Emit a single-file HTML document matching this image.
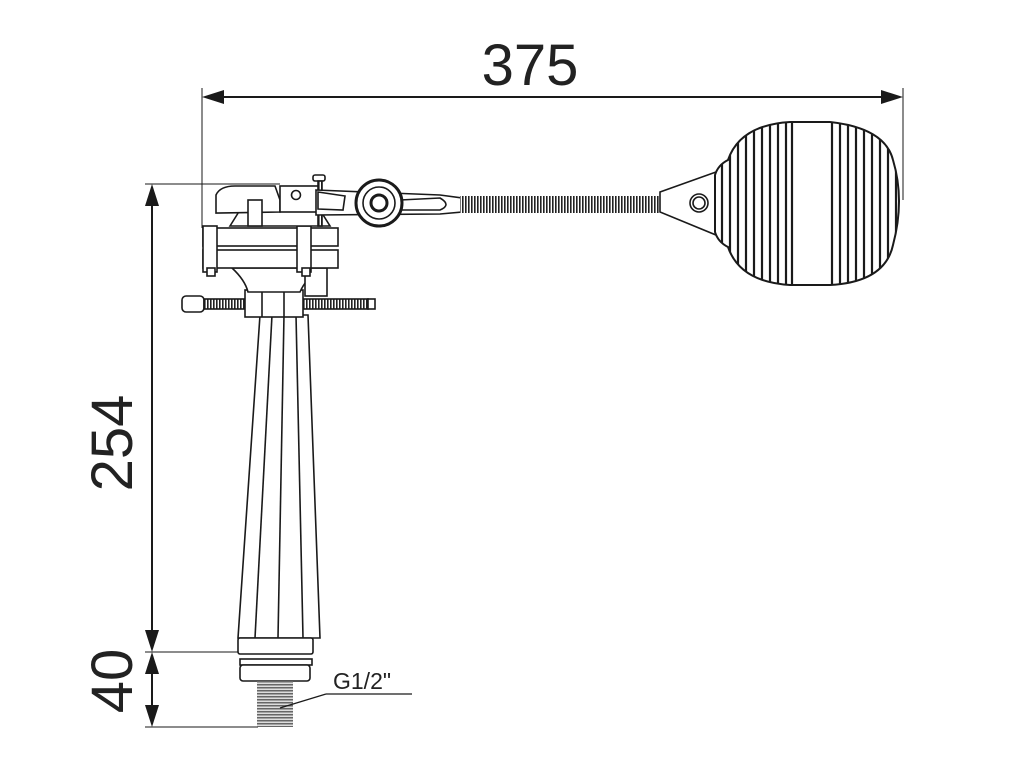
<!DOCTYPE html>
<html><head><style>body{margin:0;background:#fff}svg{display:block}</style></head><body>
<svg width="1024" height="768" viewBox="0 0 1024 768" xmlns="http://www.w3.org/2000/svg">
<defs>
<pattern id="th" width="3" height="6" patternUnits="userSpaceOnUse"><rect width="3" height="6" fill="#fff"/><rect width="1.6" height="6" fill="#222"/></pattern>
<pattern id="thv" width="6" height="3" patternUnits="userSpaceOnUse"><rect width="6" height="3" fill="#ddd"/><rect width="6" height="1.5" fill="#666"/></pattern>
<clipPath id="bc"><path d="M715 175 Q718 165 728 160 Q740 125 790 122 L830 122 Q885 128 893 160 Q905 200 893 245 Q885 282 830 285 L790 285 Q740 282 728 247 Q718 242 715 232 Z"/></clipPath>
</defs>
<g stroke="#1a1a1a" fill="none" stroke-width="1">
<!-- dimension lines -->
<line x1="202" y1="88" x2="202" y2="228"/>
<line x1="903" y1="88" x2="903" y2="200"/>
<line x1="216" y1="97" x2="889" y2="97" stroke-width="2"/>
<line x1="152" y1="198" x2="152" y2="638" stroke-width="2"/>
<line x1="152" y1="666" x2="152" y2="713" stroke-width="2"/>
<line x1="145" y1="184" x2="280" y2="184"/>
<line x1="145" y1="652" x2="240" y2="652"/>
<line x1="145" y1="727" x2="258" y2="727"/>
</g>
<g fill="#1a1a1a">
<polygon points="202,97 224,90 224,104"/>
<polygon points="903,97 881,90 881,104"/>
<polygon points="152,184 145,206 159,206"/>
<polygon points="152,652 145,630 159,630"/>
<polygon points="152,652 145,674 159,674"/>
<polygon points="152,727 145,705 159,705"/>
</g>
<g font-family="Liberation Sans, sans-serif" fill="#222">
<text x="530" y="85" font-size="58" text-anchor="middle">375</text>
<text transform="translate(132,443) rotate(-90)" font-size="58" text-anchor="middle">254</text>
<text transform="translate(132,681) rotate(-90)" font-size="58" text-anchor="middle">40</text>
<text x="333" y="689" font-size="23">G1/2"</text>
</g>
<g stroke="#1a1a1a" fill="#fff" stroke-width="1.6">
<!-- tube -->
<polygon points="260,315 308,315 320,638 238,638"/>
<line x1="272" y1="315" x2="255" y2="638"/>
<line x1="284" y1="315" x2="278" y2="638"/>
<line x1="296" y1="315" x2="303" y2="638"/>
<rect x="238" y="638" width="75" height="16" rx="2"/>
<rect x="240" y="659" width="72" height="6"/>
<rect x="240" y="665" width="70" height="16" rx="3"/>
<rect x="257" y="681" width="36" height="46" fill="url(#thv)" stroke="none"/>
<line x1="280" y1="708" x2="326" y2="694" stroke-width="1.2"/>
<line x1="326" y1="694" x2="412" y2="694" stroke-width="1.2"/>
<!-- horizontal screw -->
<rect x="182" y="296" width="22" height="16" rx="4"/>
<rect x="204" y="299" width="164" height="10" fill="url(#th)"/>
<rect x="368" y="299" width="7" height="10"/>
<rect x="245" y="290" width="58" height="27"/>
<line x1="262" y1="290" x2="262" y2="317"/><line x1="284" y1="290" x2="284" y2="317"/>
<!-- stem under body -->
<path d="M232 268 Q245 280 248 292 L300 292 Q305 280 320 268 Z"/>
<rect x="305" y="268" width="22" height="28"/>
<!-- body -->
<rect x="203" y="228" width="135" height="18"/>
<rect x="203" y="250" width="135" height="18"/>
<rect x="203" y="226" width="14" height="46"/>
<rect x="297" y="226" width="14" height="46"/>
<rect x="207" y="268" width="8" height="8"/>
<rect x="302" y="268" width="8" height="8"/>
<path d="M230 226 L240 210 L320 210 L330 226 Z"/>
<!-- head -->
<path d="M216 213 L216 195 Q220 186 235 186 L275 186 L280 200 L280 212 Z"/>
<rect x="248" y="200" width="14" height="26"/>
<rect x="280" y="186" width="40" height="26"/>
<circle cx="296" cy="195" r="4.5"/>
<rect x="313" y="175" width="12" height="6" rx="2"/>
<rect x="318" y="181" width="4" height="45" fill="url(#th)"/>
<!-- arm -->
<path d="M316 190 L440 195 L462 198 L462 212 L440 214 L316 215 Z"/>
<path d="M318 192 L345 196 L343 210 L318 209 Z"/>
<path d="M400 200 L440 198 Q452 205 440 210 L400 210 Z"/>
<circle cx="379" cy="203" r="23" stroke-width="3"/>
<circle cx="379" cy="203" r="16"/>
<circle cx="379" cy="203" r="8" stroke-width="3"/>
<!-- long threaded rod -->
<rect x="460" y="196" width="200" height="17" fill="url(#th)" stroke="none"/>
<!-- cone -->
<path d="M660 192 L716 172 L716 235 L660 212 Z"/>
<circle cx="699" cy="203" r="9"/><circle cx="699" cy="203" r="6"/>
<!-- ball -->
<path d="M715 175 Q718 165 728 160 Q740 125 790 122 L830 122 Q885 128 893 160 Q905 200 893 245 Q885 282 830 285 L790 285 Q740 282 728 247 Q718 242 715 232 Z" stroke-width="2"/>
</g>
<g clip-path="url(#bc)" stroke="#1a1a1a" stroke-width="2.2">
<line x1="722" y1="0" x2="722" y2="400"/><line x1="730" y1="0" x2="730" y2="400"/>
<line x1="738" y1="0" x2="738" y2="400"/><line x1="746" y1="0" x2="746" y2="400"/>
<line x1="754" y1="0" x2="754" y2="400"/><line x1="762" y1="0" x2="762" y2="400"/>
<line x1="770" y1="0" x2="770" y2="400"/><line x1="778" y1="0" x2="778" y2="400"/>
<line x1="786" y1="0" x2="786" y2="400"/><line x1="792" y1="0" x2="792" y2="400"/>
<line x1="832" y1="0" x2="832" y2="400"/><line x1="840" y1="0" x2="840" y2="400"/>
<line x1="848" y1="0" x2="848" y2="400"/><line x1="856" y1="0" x2="856" y2="400"/>
<line x1="864" y1="0" x2="864" y2="400"/><line x1="872" y1="0" x2="872" y2="400"/>
<line x1="880" y1="0" x2="880" y2="400"/><line x1="888" y1="0" x2="888" y2="400"/>
<line x1="896" y1="0" x2="896" y2="400"/>
</g>
</svg>
</body></html>
